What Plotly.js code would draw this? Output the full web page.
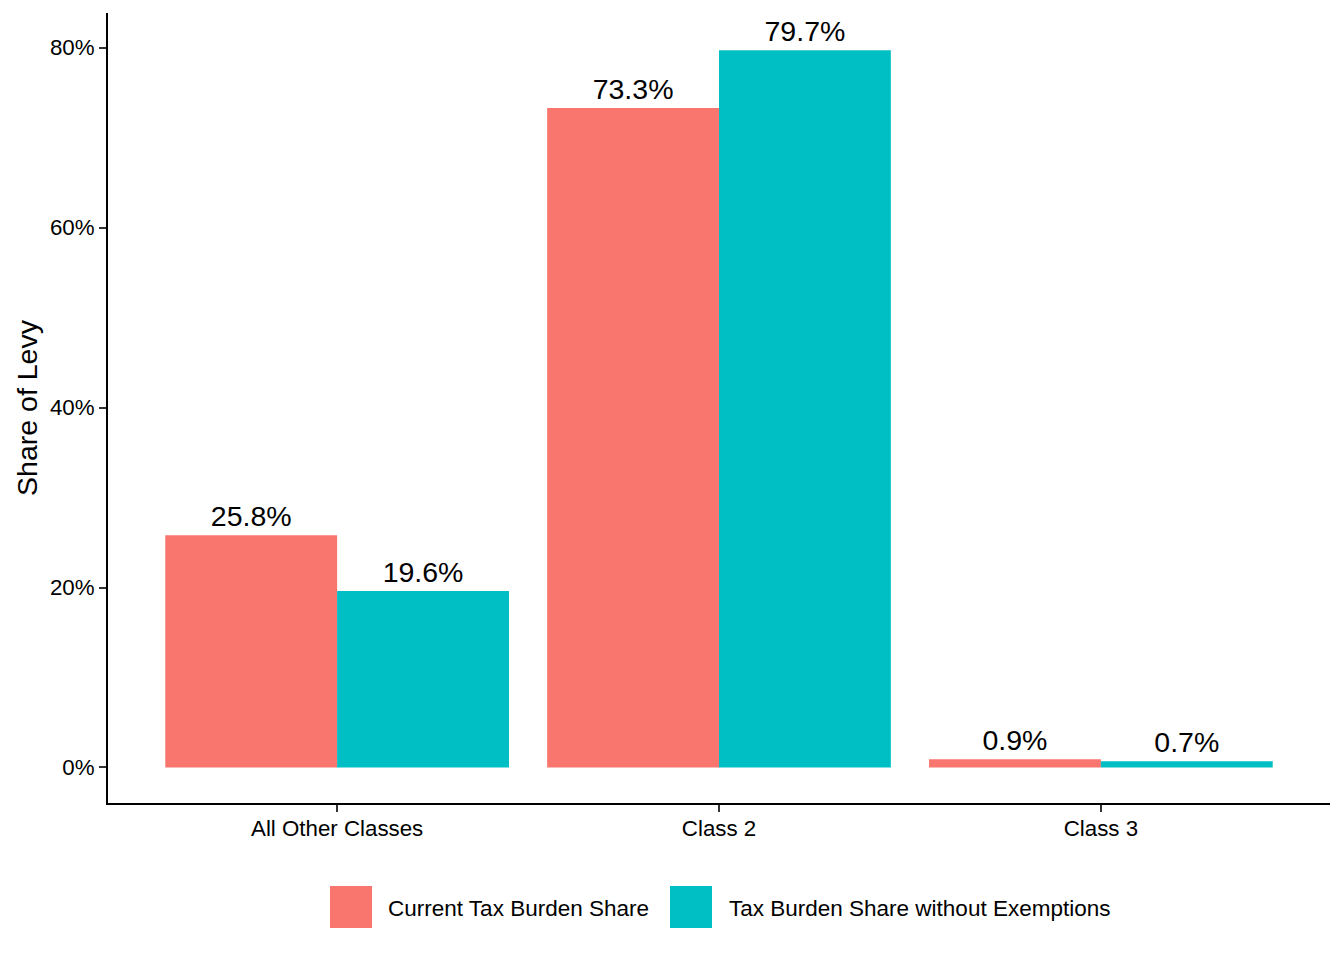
<!DOCTYPE html>
<html>
<head>
<meta charset="utf-8">
<script src="https://cdn.plot.ly/plotly-3.0.1.min.js"></script>
<style>
  html, body { margin: 0; padding: 0; background: #fff; }
  #chart { width: 1344px; height: 960px; }
</style>
</head>
<body>
<div id="chart"></div>
<script>
// categories and series
var categories = ['All Other Classes', 'Class 2', 'Class 3'];
var seriesNames = ['Current Tax Burden Share', 'Tax Burden Share without Exemptions'];
var currentShare = [25.8, 73.3, 0.9];
var noExemptShare = [19.6, 79.7, 0.7];
var seriesColors = ['#F8766D', '#00BFC4'];

// y axis ticks
var yTickVals = [0, 20, 40, 60, 80];
var yTickText = ['0%', '20%', '40%', '60%', '80%'];

// legend placement in pixels (layout only)
var legendKeyLeft = [330, 670];
var legendTextLeft = [386, 727];

window.onload = function() {
  var W = 1344, H = 960;
  var margin = {l: 108, r: 14, t: 13, b: 157};
  var FONT = 'Liberation Sans, Arial, sans-serif';

  function px2x(p) { return (p - margin.l) / (W - margin.l - margin.r); }
  function py2y(p) { return (H - margin.b - p) / (H - margin.t - margin.b); }

  var values = [currentShare, noExemptShare];
  var traces = values.map(function(v, i) {
    return {
      type: 'bar',
      x: categories,
      y: v,
      name: seriesNames[i],
      marker: {color: seriesColors[i], line: {width: 0}},
      text: v.map(function(d) { return d.toFixed(1) + '%'; }),
      textposition: 'outside',
      textfont: {family: FONT, size: 28.5, color: '#000'},
      constraintext: 'none',
      cliponaxis: false,
      hoverinfo: 'skip'
    };
  });

  // legend keys drawn as squares + labels
  var shapes = [], annotations = [];
  seriesNames.forEach(function(name, i) {
    shapes.push({
      type: 'rect', xref: 'paper', yref: 'paper',
      x0: px2x(legendKeyLeft[i]), x1: px2x(legendKeyLeft[i] + 42),
      y0: py2y(928), y1: py2y(886),
      fillcolor: seriesColors[i], line: {width: 0}
    });
    annotations.push({
      xref: 'paper', yref: 'paper',
      x: px2x(legendTextLeft[i]), y: py2y(908),
      xanchor: 'left', yanchor: 'middle',
      text: name, showarrow: false,
      font: {family: FONT, size: 22.5, color: '#000'}
    });
  });

  var layout = {
    width: W, height: H,
    margin: margin,
    paper_bgcolor: '#fff',
    plot_bgcolor: '#fff',
    barmode: 'group',
    bargap: 0.1,
    bargroupgap: 0,
    showlegend: false,
    font: {family: FONT, color: '#000'},
    xaxis: {
      type: 'category',
      range: [-0.6, 2.6],
      showline: true, linecolor: '#000', linewidth: 2,
      ticks: 'outside', ticklen: 7, tickwidth: 2, tickcolor: '#333',
      ticklabelstandoff: -3,
      showgrid: false, zeroline: false,
      tickfont: {family: FONT, size: 22.3, color: '#000'},
      fixedrange: true
    },
    yaxis: {
      range: [-3.95, 83.85],
      tickvals: yTickVals, ticktext: yTickText,
      showline: true, linecolor: '#000', linewidth: 2,
      ticks: 'outside', ticklen: 7, tickwidth: 2, tickcolor: '#333',
      showgrid: false, zeroline: false,
      tickfont: {family: FONT, size: 22.3, color: '#000'},
      title: {text: 'Share of Levy', font: {family: FONT, size: 28.5, color: '#000'}, standoff: 4},
      fixedrange: true
    },
    shapes: shapes,
    annotations: annotations
  };

  Plotly.newPlot('chart', traces, layout, {staticPlot: true});
};
</script>
</body>
</html>
